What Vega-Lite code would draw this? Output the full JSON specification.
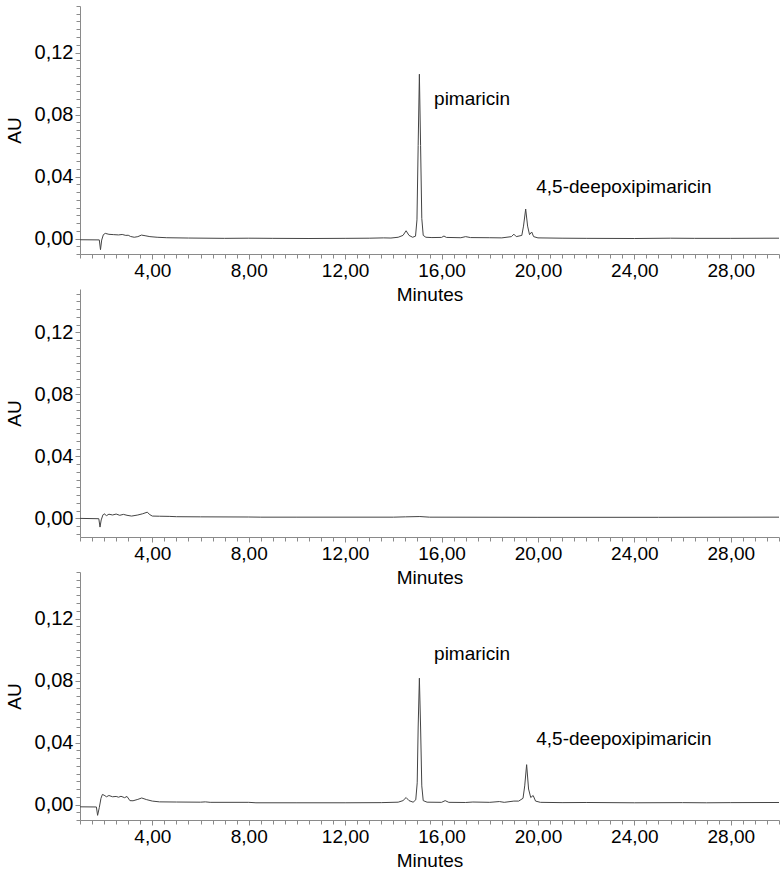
{
  "$schema": "https://vega.github.io/schema/vega-lite/v6.json",
  "background": "white",
  "padding": {"left": 5, "top": 5, "right": 4, "bottom": 5},
  "spacing": 35,
  "bounds": "flush",
  "config": {
    "font": "Liberation Sans",
    "view": {"stroke": null},
    "axis": {
      "labelFont": "Liberation Sans", "titleFont": "Liberation Sans",
      "labelFontSize": 19, "titleFontSize": 19, "titleFontWeight": "normal",
      "labelColor": "#000000", "titleColor": "#000000",
      "domainColor": "#8a8a8a", "tickColor": "#8a8a8a", "grid": false
    }
  },
  "datasets": {
    "p1": [
      {"t": 1.0, "au": -0.0008}, {"t": 1.8, "au": -0.0009}, {"t": 1.85, "au": -0.0072}, {"t": 1.9, "au": -0.001},
      {"t": 1.97, "au": 0.0025}, {"t": 2.05, "au": 0.0033}, {"t": 2.2, "au": 0.0027}, {"t": 2.4, "au": 0.0025},
      {"t": 2.6, "au": 0.0023}, {"t": 2.75, "au": 0.0026}, {"t": 2.9, "au": 0.002}, {"t": 3.0, "au": 0.0021},
      {"t": 3.1, "au": 0.0013}, {"t": 3.25, "au": 0.0008}, {"t": 3.4, "au": 0.0012}, {"t": 3.55, "au": 0.0022},
      {"t": 3.7, "au": 0.0018}, {"t": 3.9, "au": 0.0012}, {"t": 4.2, "au": 0.0008}, {"t": 4.6, "au": 0.0005},
      {"t": 5.5, "au": 0.0003}, {"t": 7.0, "au": 0.0001}, {"t": 8.0, "au": 0.0002}, {"t": 9.0, "au": 0.0001},
      {"t": 10.5, "au": 0.0}, {"t": 12.0, "au": 0.0001}, {"t": 13.0, "au": 0.0002}, {"t": 13.6, "au": 0.0004},
      {"t": 13.9, "au": 0.0003}, {"t": 14.2, "au": 0.0008}, {"t": 14.4, "au": 0.002}, {"t": 14.53, "au": 0.005},
      {"t": 14.65, "au": 0.002}, {"t": 14.8, "au": 0.0008}, {"t": 14.92, "au": 0.0015}, {"t": 14.98, "au": 0.012},
      {"t": 15.03, "au": 0.06}, {"t": 15.08, "au": 0.106}, {"t": 15.13, "au": 0.06}, {"t": 15.18, "au": 0.013},
      {"t": 15.24, "au": 0.002}, {"t": 15.35, "au": 0.0008}, {"t": 15.6, "au": 0.0006}, {"t": 16.0, "au": 0.0007},
      {"t": 16.1, "au": 0.0016}, {"t": 16.2, "au": 0.0007}, {"t": 16.8, "au": 0.0005}, {"t": 17.0, "au": 0.0012},
      {"t": 17.2, "au": 0.0006}, {"t": 18.0, "au": 0.0005}, {"t": 18.5, "au": 0.0004}, {"t": 18.9, "au": 0.0012},
      {"t": 19.0, "au": 0.0028}, {"t": 19.1, "au": 0.0012}, {"t": 19.33, "au": 0.002}, {"t": 19.4, "au": 0.008},
      {"t": 19.49, "au": 0.019}, {"t": 19.57, "au": 0.008}, {"t": 19.65, "au": 0.0025}, {"t": 19.74, "au": 0.0042},
      {"t": 19.82, "au": 0.0012}, {"t": 20.0, "au": 0.0004}, {"t": 21.0, "au": 0.0002}, {"t": 22.0, "au": 0.0001},
      {"t": 24.0, "au": 0.0}, {"t": 25.5, "au": 0.0002}, {"t": 26.5, "au": 0.0001}, {"t": 28.0, "au": 0.0001},
      {"t": 30.0, "au": 0.0002}
    ],
    "p2": [
      {"t": 1.0, "au": 0.0}, {"t": 1.78, "au": -0.0002}, {"t": 1.83, "au": -0.0056}, {"t": 1.88, "au": -0.001},
      {"t": 1.95, "au": 0.0022}, {"t": 2.0, "au": 0.003}, {"t": 2.1, "au": 0.0018}, {"t": 2.2, "au": 0.0027},
      {"t": 2.35, "au": 0.0022}, {"t": 2.5, "au": 0.0028}, {"t": 2.65, "au": 0.002}, {"t": 2.8, "au": 0.0026},
      {"t": 2.95, "au": 0.002}, {"t": 3.14, "au": 0.0015}, {"t": 3.4, "au": 0.0022}, {"t": 3.6, "au": 0.003},
      {"t": 3.79, "au": 0.004}, {"t": 3.9, "au": 0.0024}, {"t": 4.0, "au": 0.0015}, {"t": 4.3, "au": 0.0014},
      {"t": 4.7, "au": 0.0013}, {"t": 5.0, "au": 0.0011}, {"t": 6.0, "au": 0.001}, {"t": 8.0, "au": 0.0009},
      {"t": 8.5, "au": 0.0008}, {"t": 10.0, "au": 0.0008}, {"t": 14.0, "au": 0.0008}, {"t": 14.5, "au": 0.001},
      {"t": 15.1, "au": 0.0012}, {"t": 15.5, "au": 0.0008}, {"t": 20.0, "au": 0.0007}, {"t": 25.0, "au": 0.0007},
      {"t": 30.0, "au": 0.0008}
    ],
    "p3": [
      {"t": 1.0, "au": -0.0015}, {"t": 1.68, "au": -0.0016}, {"t": 1.73, "au": -0.007}, {"t": 1.8, "au": -0.002},
      {"t": 1.87, "au": 0.004}, {"t": 1.93, "au": 0.0065}, {"t": 2.0, "au": 0.006}, {"t": 2.1, "au": 0.005},
      {"t": 2.2, "au": 0.0058}, {"t": 2.35, "au": 0.005}, {"t": 2.5, "au": 0.0052}, {"t": 2.6, "au": 0.0047},
      {"t": 2.7, "au": 0.0053}, {"t": 2.85, "au": 0.0044}, {"t": 2.95, "au": 0.0052}, {"t": 3.07, "au": 0.0025},
      {"t": 3.2, "au": 0.0024}, {"t": 3.4, "au": 0.0033}, {"t": 3.56, "au": 0.0042}, {"t": 3.75, "au": 0.0032},
      {"t": 4.0, "au": 0.0022}, {"t": 4.3, "au": 0.0017}, {"t": 5.0, "au": 0.0016}, {"t": 6.0, "au": 0.0015},
      {"t": 6.2, "au": 0.0017}, {"t": 6.4, "au": 0.0014}, {"t": 8.0, "au": 0.0014}, {"t": 8.3, "au": 0.0011},
      {"t": 10.0, "au": 0.0011}, {"t": 12.0, "au": 0.0011}, {"t": 13.5, "au": 0.0012}, {"t": 14.2, "au": 0.0015},
      {"t": 14.4, "au": 0.0025}, {"t": 14.53, "au": 0.0045}, {"t": 14.65, "au": 0.0025}, {"t": 14.82, "au": 0.0015},
      {"t": 14.93, "au": 0.003}, {"t": 14.99, "au": 0.014}, {"t": 15.03, "au": 0.05}, {"t": 15.08, "au": 0.0815},
      {"t": 15.13, "au": 0.05}, {"t": 15.18, "au": 0.012}, {"t": 15.24, "au": 0.0025}, {"t": 15.4, "au": 0.0015},
      {"t": 16.0, "au": 0.0014}, {"t": 16.15, "au": 0.0025}, {"t": 16.3, "au": 0.0014}, {"t": 17.0, "au": 0.0013},
      {"t": 17.3, "au": 0.0016}, {"t": 18.0, "au": 0.0014}, {"t": 18.4, "au": 0.0019}, {"t": 18.6, "au": 0.0014},
      {"t": 19.0, "au": 0.0022}, {"t": 19.2, "au": 0.0022}, {"t": 19.38, "au": 0.004}, {"t": 19.45, "au": 0.012},
      {"t": 19.53, "au": 0.0257}, {"t": 19.61, "au": 0.01}, {"t": 19.7, "au": 0.0045}, {"t": 19.8, "au": 0.0058},
      {"t": 19.9, "au": 0.0022}, {"t": 20.1, "au": 0.0014}, {"t": 21.0, "au": 0.0012}, {"t": 22.0, "au": 0.0013},
      {"t": 24.0, "au": 0.0011}, {"t": 26.0, "au": 0.0012}, {"t": 27.0, "au": 0.0011}, {"t": 28.0, "au": 0.0012},
      {"t": 30.0, "au": 0.0013}
    ],
    "l1": [
      {"t": 15.69, "au": 0.0862, "label": "pimaricin"},
      {"t": 19.93, "au": 0.0295, "label": "4,5-deepoxipimaricin"}
    ],
    "l3": [
      {"t": 15.69, "au": 0.0931, "label": "pimaricin"},
      {"t": 19.93, "au": 0.0383, "label": "4,5-deepoxipimaricin"}
    ]
  },
  "vconcat": [
    {
      "width": 699, "height": 248,
      "resolve": {"axis": {"x": "independent", "y": "independent"}},
      "layer": [
        {
          "data": {"name": "p1"},
          "mark": {"type": "line", "color": "#444444", "strokeWidth": 1, "clip": true},
          "encoding": {
            "x": {"field": "t", "type": "quantitative", "scale": {"domain": [1, 30], "nice": false, "zero": false},
              "axis": {"orient": "bottom", "values": [4, 8, 12, 16, 20, 24, 28], "labelExpr": "replace(format(datum.value, '.2f'), '.', ',')", "tickSize": 5, "labelPadding": 2, "title": "Minutes", "titlePadding": 5, "labelFlush": false}},
            "y": {"field": "au", "type": "quantitative", "scale": {"domain": [-0.01, 0.15], "nice": false, "zero": false},
              "axis": {"orient": "left", "values": [0, 0.04, 0.08, 0.12], "labelExpr": "replace(format(datum.value, '.2f'), '.', ',')", "labelFontSize": 20, "tickSize": 5, "labelPadding": 2, "title": "AU", "titlePadding": 10}}
          }
        },
        {
          "data": {"name": "p1"},
          "mark": {"type": "line", "opacity": 0},
          "encoding": {
            "x": {"field": "t", "type": "quantitative", "scale": {"domain": [1, 30], "nice": false, "zero": false},
              "axis": {"orient": "bottom", "values": [1, 1.5, 2, 2.5, 3, 3.5, 4, 4.5, 5, 5.5, 6, 6.5, 7, 7.5, 8, 8.5, 9, 9.5, 10, 10.5, 11, 11.5, 12, 12.5, 13, 13.5, 14, 14.5, 15, 15.5, 16, 16.5, 17, 17.5, 18, 18.5, 19, 19.5, 20, 20.5, 21, 21.5, 22, 22.5, 23, 23.5, 24, 24.5, 25, 25.5, 26, 26.5, 27, 27.5, 28, 28.5, 29, 29.5, 30], "labels": false, "domain": false, "tickSize": 4, "title": null}},
            "y": {"field": "au", "type": "quantitative", "scale": {"domain": [-0.01, 0.15], "nice": false, "zero": false},
              "axis": {"orient": "left", "values": [-0.01, -0.005, 0, 0.005, 0.01, 0.015, 0.02, 0.025, 0.03, 0.035, 0.04, 0.045, 0.05, 0.055, 0.06, 0.065, 0.07, 0.075, 0.08, 0.085, 0.09, 0.095, 0.1, 0.105, 0.11, 0.115, 0.12, 0.125, 0.13, 0.135, 0.14, 0.145, 0.15], "labels": false, "domain": false, "tickSize": 4, "title": null}}
          }
        },
        {
          "data": {"name": "l1"},
          "mark": {"type": "text", "align": "left", "baseline": "alphabetic", "fontSize": 19, "font": "Liberation Sans", "color": "#000000"},
          "encoding": {
            "x": {"field": "t", "type": "quantitative", "scale": {"domain": [1, 30], "nice": false, "zero": false}, "axis": null},
            "y": {"field": "au", "type": "quantitative", "scale": {"domain": [-0.01, 0.15], "nice": false, "zero": false}, "axis": null},
            "text": {"field": "label"}
          }
        }
      ]
    },
    {
      "width": 699, "height": 248,
      "resolve": {"axis": {"x": "independent", "y": "independent"}},
      "layer": [
        {
          "data": {"name": "p2"},
          "mark": {"type": "line", "color": "#444444", "strokeWidth": 1, "clip": true},
          "encoding": {
            "x": {"field": "t", "type": "quantitative", "scale": {"domain": [1, 30], "nice": false, "zero": false},
              "axis": {"orient": "bottom", "values": [4, 8, 12, 16, 20, 24, 28], "labelExpr": "replace(format(datum.value, '.2f'), '.', ',')", "tickSize": 5, "labelPadding": 2, "title": "Minutes", "titlePadding": 5, "labelFlush": false}},
            "y": {"field": "au", "type": "quantitative", "scale": {"domain": [-0.012, 0.148], "nice": false, "zero": false},
              "axis": {"orient": "left", "values": [0, 0.04, 0.08, 0.12], "labelExpr": "replace(format(datum.value, '.2f'), '.', ',')", "labelFontSize": 20, "tickSize": 5, "labelPadding": 2, "title": "AU", "titlePadding": 10}}
          }
        },
        {
          "data": {"name": "p2"},
          "mark": {"type": "line", "opacity": 0},
          "encoding": {
            "x": {"field": "t", "type": "quantitative", "scale": {"domain": [1, 30], "nice": false, "zero": false},
              "axis": {"orient": "bottom", "values": [1, 1.5, 2, 2.5, 3, 3.5, 4, 4.5, 5, 5.5, 6, 6.5, 7, 7.5, 8, 8.5, 9, 9.5, 10, 10.5, 11, 11.5, 12, 12.5, 13, 13.5, 14, 14.5, 15, 15.5, 16, 16.5, 17, 17.5, 18, 18.5, 19, 19.5, 20, 20.5, 21, 21.5, 22, 22.5, 23, 23.5, 24, 24.5, 25, 25.5, 26, 26.5, 27, 27.5, 28, 28.5, 29, 29.5, 30], "labels": false, "domain": false, "tickSize": 4, "title": null}},
            "y": {"field": "au", "type": "quantitative", "scale": {"domain": [-0.012, 0.148], "nice": false, "zero": false},
              "axis": {"orient": "left", "values": [-0.01, -0.005, 0, 0.005, 0.01, 0.015, 0.02, 0.025, 0.03, 0.035, 0.04, 0.045, 0.05, 0.055, 0.06, 0.065, 0.07, 0.075, 0.08, 0.085, 0.09, 0.095, 0.1, 0.105, 0.11, 0.115, 0.12, 0.125, 0.13, 0.135, 0.14, 0.145], "labels": false, "domain": false, "tickSize": 4, "title": null}}
          }
        }
      ]
    },
    {
      "width": 699, "height": 248,
      "resolve": {"axis": {"x": "independent", "y": "independent"}},
      "layer": [
        {
          "data": {"name": "p3"},
          "mark": {"type": "line", "color": "#444444", "strokeWidth": 1, "clip": true},
          "encoding": {
            "x": {"field": "t", "type": "quantitative", "scale": {"domain": [1, 30], "nice": false, "zero": false},
              "axis": {"orient": "bottom", "values": [4, 8, 12, 16, 20, 24, 28], "labelExpr": "replace(format(datum.value, '.2f'), '.', ',')", "tickSize": 5, "labelPadding": 2, "title": "Minutes", "titlePadding": 5, "labelFlush": false}},
            "y": {"field": "au", "type": "quantitative", "scale": {"domain": [-0.01, 0.15], "nice": false, "zero": false},
              "axis": {"orient": "left", "values": [0, 0.04, 0.08, 0.12], "labelExpr": "replace(format(datum.value, '.2f'), '.', ',')", "labelFontSize": 20, "tickSize": 5, "labelPadding": 2, "title": "AU", "titlePadding": 10}}
          }
        },
        {
          "data": {"name": "p3"},
          "mark": {"type": "line", "opacity": 0},
          "encoding": {
            "x": {"field": "t", "type": "quantitative", "scale": {"domain": [1, 30], "nice": false, "zero": false},
              "axis": {"orient": "bottom", "values": [1, 1.5, 2, 2.5, 3, 3.5, 4, 4.5, 5, 5.5, 6, 6.5, 7, 7.5, 8, 8.5, 9, 9.5, 10, 10.5, 11, 11.5, 12, 12.5, 13, 13.5, 14, 14.5, 15, 15.5, 16, 16.5, 17, 17.5, 18, 18.5, 19, 19.5, 20, 20.5, 21, 21.5, 22, 22.5, 23, 23.5, 24, 24.5, 25, 25.5, 26, 26.5, 27, 27.5, 28, 28.5, 29, 29.5, 30], "labels": false, "domain": false, "tickSize": 4, "title": null}},
            "y": {"field": "au", "type": "quantitative", "scale": {"domain": [-0.01, 0.15], "nice": false, "zero": false},
              "axis": {"orient": "left", "values": [-0.01, -0.005, 0, 0.005, 0.01, 0.015, 0.02, 0.025, 0.03, 0.035, 0.04, 0.045, 0.05, 0.055, 0.06, 0.065, 0.07, 0.075, 0.08, 0.085, 0.09, 0.095, 0.1, 0.105, 0.11, 0.115, 0.12, 0.125, 0.13, 0.135, 0.14, 0.145, 0.15], "labels": false, "domain": false, "tickSize": 4, "title": null}}
          }
        },
        {
          "data": {"name": "l3"},
          "mark": {"type": "text", "align": "left", "baseline": "alphabetic", "fontSize": 19, "font": "Liberation Sans", "color": "#000000"},
          "encoding": {
            "x": {"field": "t", "type": "quantitative", "scale": {"domain": [1, 30], "nice": false, "zero": false}, "axis": null},
            "y": {"field": "au", "type": "quantitative", "scale": {"domain": [-0.01, 0.15], "nice": false, "zero": false}, "axis": null},
            "text": {"field": "label"}
          }
        }
      ]
    }
  ]
}
